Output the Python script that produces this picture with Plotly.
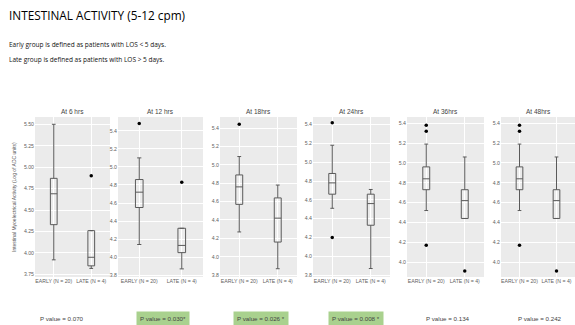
import plotly.graph_objects as go

W, H = 575, 325

# ---------------- data ----------------
panel_titles = ["At 6 hrs", "At 12 hrs", "At 18hrs", "At 24hrs", "At 36hrs", "At 48hrs"]
groups = ["EARLY (N = 20)", "LATE (N = 4)"]

early_lf = [3.92, 4.14, 4.27, 4.51, 4.52, 4.52]
early_q1 = [4.33, 4.55, 4.57, 4.66, 4.73, 4.73]
early_med = [4.69, 4.72, 4.76, 4.78, 4.84, 4.84]
early_q3 = [4.87, 4.86, 4.89, 4.88, 4.96, 4.96]
early_uf = [5.50, 5.10, 5.09, 5.18, 5.19, 5.19]
early_out = [[], [5.48], [5.44], [5.42, 4.20], [5.38, 5.32, 4.17], [5.38, 5.32, 4.17]]

late_lf = [3.82, 3.87, 3.87, 3.87, 4.44, 4.44]
late_q1 = [3.85, 4.05, 4.16, 4.33, 4.44, 4.44]
late_med = [3.95, 4.13, 4.42, 4.56, 4.62, 4.62]
late_q3 = [4.26, 4.32, 4.64, 4.66, 4.73, 4.73]
late_uf = [4.26, 4.32, 4.78, 4.71, 5.06, 5.06]
late_out = [[4.90], [4.83], [], [], [3.91], [3.91]]

y_ranges = [[3.72, 5.585], [3.78, 5.553], [3.78, 5.52], [3.78, 5.48], [3.85, 5.463], [3.85, 5.463]]
y_ticks = [
    [3.75, 4.00, 4.25, 4.50, 4.75, 5.00, 5.25, 5.50],
    [3.8, 4.0, 4.2, 4.4, 4.6, 4.8, 5.0, 5.2, 5.4],
    [3.8, 4.0, 4.2, 4.4, 4.6, 4.8, 5.0, 5.2, 5.4],
    [3.8, 4.0, 4.2, 4.4, 4.6, 4.8, 5.0, 5.2, 5.4],
    [4.0, 4.2, 4.4, 4.6, 4.8, 5.0, 5.2, 5.4],
    [4.0, 4.2, 4.4, 4.6, 4.8, 5.0, 5.2, 5.4],
]
y_tickformats = [".2f", ".1f", ".1f", ".1f", ".1f", ".1f"]

p_texts = ["P value = 0.070", "P value = 0.030*", "P value = 0.026 *",
           "P value = 0.008 *", "P value = 0.134", "P value = 0.242"]
p_significant = [False, True, True, True, False, False]

title_text = "INTESTINAL ACTIVITY (5-12 cpm)"
sub1 = "Early group is defined as patients with LOS < 5 days."
sub2 = "Late group is defined as patients with LOS > 5 days."
y_title = "Intestinal Myoelectrical Activity (Log of ADC units)"

# ---------------- layout geometry (pixels) ----------------
panel_x = [(35, 110), (118, 203), (220, 297), (313, 390), (407, 484), (501, 575)]
panel_top, panel_bot = 117, 277
p_centers = [62, 163, 261, 356, 448, 540]
p_y = 318

def fx(p):
    return p / W

def fy(p):
    return 1 - p / H

FONT = "Liberation Sans"
BOXC = "#5a5a5a"
TICKC = "#5f5f5f"

fig = go.Figure()
layout = dict(
    width=W, height=H, margin=dict(l=0, r=0, t=0, b=0),
    paper_bgcolor="white", plot_bgcolor="#EBEBEB", showlegend=False,
    font=dict(family=FONT, color="#333"),
)

annotations = []
for i in range(6):
    n = "" if i == 0 else str(i + 1)
    xa, ya = "x" + n, "y" + n
    fig.add_trace(go.Box(
        x=[groups[0]], q1=[early_q1[i]], median=[early_med[i]], q3=[early_q3[i]],
        lowerfence=[early_lf[i]], upperfence=[early_uf[i]],
        xaxis=xa, yaxis=ya, width=0.18, whiskerwidth=0.55,
        line=dict(color=BOXC, width=1), fillcolor="rgba(0,0,0,0)", boxpoints=False,
        hoverinfo="skip"))
    fig.add_trace(go.Box(
        x=[groups[1]], q1=[late_q1[i]], median=[late_med[i]], q3=[late_q3[i]],
        lowerfence=[late_lf[i]], upperfence=[late_uf[i]],
        xaxis=xa, yaxis=ya, width=0.18, whiskerwidth=0.55,
        line=dict(color=BOXC, width=1), fillcolor="rgba(0,0,0,0)", boxpoints=False,
        hoverinfo="skip"))
    ox = [groups[0]] * len(early_out[i]) + [groups[1]] * len(late_out[i])
    oy = early_out[i] + late_out[i]
    if oy:
        fig.add_trace(go.Scatter(x=ox, y=oy, mode="markers", xaxis=xa, yaxis=ya,
                                 marker=dict(color="black", size=3.5), hoverinfo="skip"))
    x0, x1 = panel_x[i]
    layout["xaxis" + n] = dict(
        domain=[fx(x0), fx(x1)], anchor=ya, type="category",
        categoryorder="array", categoryarray=groups, range=[-0.5, 1.5],
        showgrid=True, gridcolor="white", gridwidth=1, zeroline=False,
        ticks="", tickangle=0, tickfont=dict(size=5.2, color=TICKC, family=FONT),
        showline=False, fixedrange=True)
    layout["yaxis" + n] = dict(
        domain=[fy(panel_bot), fy(panel_top)], anchor=xa, range=y_ranges[i],
        tickvals=y_ticks[i], tickformat=y_tickformats[i],
        showgrid=True, gridcolor="white", gridwidth=1, zeroline=False,
        ticks="", tickfont=dict(size=5.2, color=TICKC, family=FONT),
        showline=False, fixedrange=True)
    annotations.append(dict(
        text=panel_titles[i], x=fx((x0 + x1) / 2), y=fy(111), xref="paper", yref="paper",
        showarrow=False, font=dict(size=6.5, color="#444", family=FONT),
        xanchor="center", yanchor="middle"))
    if p_significant[i]:
        annotations.append(dict(
            text=p_texts[i], x=fx(p_centers[i]), y=fy(p_y), xref="paper", yref="paper",
            showarrow=False, font=dict(size=6.2, color="#444", family=FONT),
            bgcolor="#A9D18E", borderpad=3, xanchor="center", yanchor="middle"))
    else:
        annotations.append(dict(
            text=p_texts[i], x=fx(p_centers[i]), y=fy(p_y), xref="paper", yref="paper",
            showarrow=False, font=dict(size=6.2, color="#444", family=FONT),
            xanchor="center", yanchor="middle"))

annotations.append(dict(
    text=y_title, x=fx(14), y=fy((panel_top + panel_bot) / 2), xref="paper", yref="paper",
    showarrow=False, textangle=-90, font=dict(size=5, color="#555", family=FONT),
    xanchor="center", yanchor="middle"))
annotations.append(dict(
    text=title_text, x=fx(7), y=fy(15), xref="paper", yref="paper", showarrow=False,
    font=dict(size=11.8, color="#000", family="Open Sans"), xanchor="left", yanchor="middle"))
annotations.append(dict(
    text=sub1, x=fx(7), y=fy(45), xref="paper", yref="paper", showarrow=False,
    font=dict(size=6.5, color="#111", family="Open Sans"), xanchor="left", yanchor="middle"))
annotations.append(dict(
    text=sub2, x=fx(7), y=fy(59), xref="paper", yref="paper", showarrow=False,
    font=dict(size=6.5, color="#111", family="Open Sans"), xanchor="left", yanchor="middle"))

layout["annotations"] = annotations
fig.update_layout(**layout)
fig.write_html("out.html")
